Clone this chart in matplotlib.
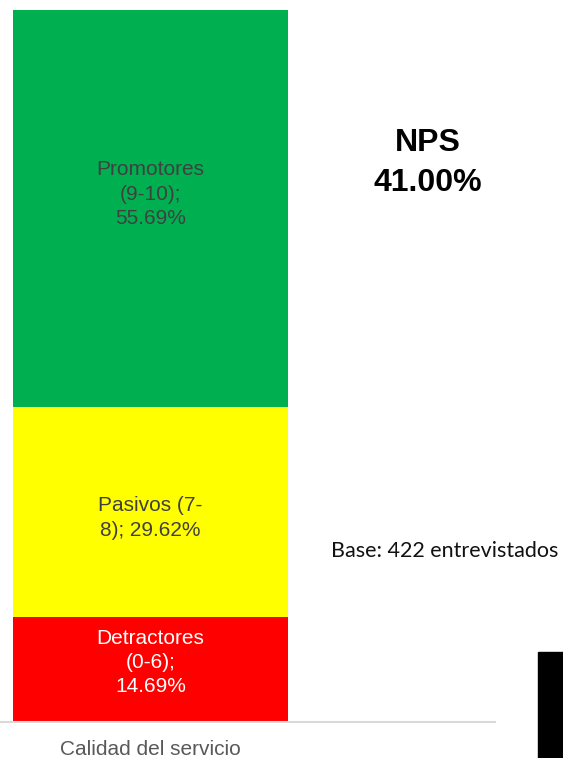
import matplotlib.pyplot as plt
from matplotlib.patches import Rectangle

# NPS breakdown for "Calidad del servicio"
category = "Calidad del servicio"
segments = ["Detractores\n(0-6);\n14.69%", "Pasivos (7-\n8); 29.62%", "Promotores\n(9-10);\n55.69%"]
values = [14.69, 29.62, 55.69]
colors = ["#FF0000", "#FFFF00", "#00B050"]
text_colors = ["white", "#404040", "#404040"]
label_offsets = [1.0, -0.85, 2.0]
nps_value = 41.00
base_n = 422

fig = plt.figure(figsize=(5.63, 7.58), dpi=100)
W, H = 563, 758

# axes: x from 0 to 495 px, y from 722 (bottom) to 10 (top)
ax = fig.add_axes([0, (H - 722) / H, 495 / W, 712 / H])

bottom = 0
for val, col, lab, tc, off in zip(values, colors, segments, text_colors, label_offsets):
    ax.bar(0, val, width=1, bottom=bottom, color=col, edgecolor="none")
    ax.text(0, bottom + val / 2 + off, lab, ha="center", va="center",
            fontsize=15, color=tc, family="Liberation Sans", linespacing=1.36)
    bottom += val

ax.set_xlim(-0.5 - 13 / 275, 0.5 + (495 - 288) / 275)
ax.set_ylim(0, 100)
for s in ["top", "right", "left"]:
    ax.spines[s].set_visible(False)
ax.spines["bottom"].set_color("#d9d9d9")
ax.spines["bottom"].set_linewidth(1.5)
ax.set_yticks([])
ax.set_xticks([0])
ax.set_xticklabels([category], fontsize=15, color="#595959", family="Liberation Sans")
ax.tick_params(axis="x", length=0, pad=13)

# NPS headline
fig.text(428 / W, 1 - 163 / H, f"NPS\n{nps_value:.2f}%", ha="center", va="center",
         fontsize=23, fontweight="bold", family="Liberation Sans", linespacing=1.41)
fig.text(445 / W, 1 - 551 / H, f"Base: {base_n} entrevistados", ha="center", va="center",
         fontsize=15.5, family="Lato", color="#111111")

# faint background bits on the left edge and black block bottom-right
fig.patches.append(Rectangle((0, 1 - 270 / H), 13 / W, 47 / H, transform=fig.transFigure,
                             color="#eef6fd", zorder=-1))
fig.patches.append(Rectangle((0, 1 - 410 / H), 13 / W, 37 / H, transform=fig.transFigure,
                             color="#eef6fd", zorder=-1))
fig.patches.append(Rectangle((538 / W, 0), 25 / W, 106 / H, transform=fig.transFigure,
                             color="black"))

fig.savefig("out.png", dpi=100)
